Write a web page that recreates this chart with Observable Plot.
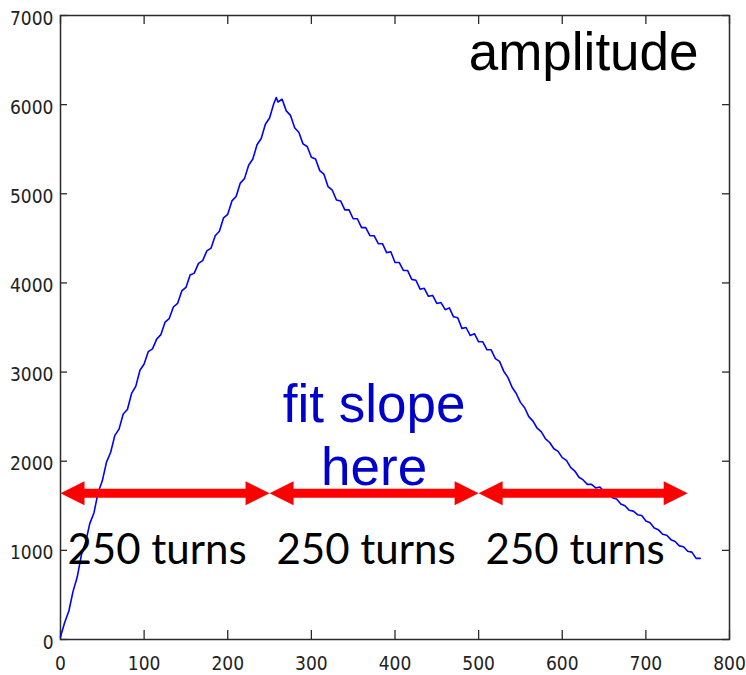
<!DOCTYPE html>
<html><head><meta charset="utf-8">
<script src="https://cdn.jsdelivr.net/npm/d3@7"></script>
<script src="https://cdn.jsdelivr.net/npm/@observablehq/plot@0.6"></script>
<style>body{margin:0;background:#fff}</style>
</head><body><div id="chart"></div>
<script>
// ---- data ----
const turns = [0,5,10,15,20,25,30,35,40,45,50,55,60,65,70,75,80,85,90,95,100,105,110,115,120,125,130,135,140,145,150,155,160,165,170,175,180,185,190,195,200,205,210,215,220,225,230,235,240,245,250,255,258,260,265,270,275,280,285,290,295,300,305,310,315,320,325,330,335,340,345,350,355,360,365,370,375,380,385,390,395,400,405,410,415,420,425,430,435,440,445,450,455,460,465,470,475,480,485,490,495,500,505,510,515,520,525,530,535,540,545,550,555,560,565,570,575,580,585,590,595,600,605,610,615,620,625,630,635,640,645,650,655,660,665,670,675,680,685,690,695,700,705,710,715,720,725,730,735,740,745,750,755,760,765];
const amplitude = [30,190,320,540,700,950,1090,1300,1420,1650,1780,1990,2100,2290,2360,2530,2580,2760,2840,3020,3090,3230,3260,3370,3420,3560,3600,3730,3770,3910,3950,4090,4110,4220,4250,4360,4390,4530,4580,4730,4770,4920,4970,5120,5170,5320,5390,5550,5620,5780,5850,6010,6080,6030,6060,5930,5880,5740,5690,5560,5530,5410,5390,5260,5220,5080,5040,4930,4920,4820,4820,4720,4720,4620,4620,4530,4530,4440,4440,4340,4350,4230,4230,4140,4140,4040,4030,3930,3940,3850,3860,3770,3780,3700,3720,3620,3610,3490,3500,3410,3430,3340,3340,3250,3250,3150,3120,3010,2940,2830,2760,2660,2600,2500,2450,2370,2330,2250,2210,2140,2110,2040,2010,1930,1890,1820,1790,1740,1740,1700,1710,1660,1640,1590,1575,1520,1500,1450,1440,1400,1390,1330,1310,1250,1230,1180,1170,1120,1100,1050,1040,990,980,910,910];
const xTicks = [0,100,200,300,400,500,600,700,800];
const yTicks = [0,1000,2000,3000,4000,5000,6000,7000];
const arrowStart = [0,250,500];
const arrowEnd = [250,500,750];
const arrowLevel = 1640;
const spanLabels = ["250 turns","250 turns","250 turns"];
const spanLabelX = [125,375,625];
const spanLabelY = 850;
const titleText = ["amplitude"];
const titleX = 763, titleY = 6394;
const noteText = ["fit slope\nhere"];
const noteX = 375, noteY = 1728;

// ---- build ----
const series = turns.map((t, i) => ({turn: t, amp: amplitude[i]}));
const arrows = arrowStart.map((s, i) => ({x1: s, x2: arrowEnd[i], y: arrowLevel}));
const spans = spanLabels.map((t, i) => ({text: t, x: spanLabelX[i], y: spanLabelY}));

const headRight = {draw(ctx) { ctx.moveTo(0, 0); ctx.lineTo(-24, -12); ctx.lineTo(-24, 12); ctx.closePath(); }};
const headLeft = {draw(ctx) { ctx.moveTo(0, 0); ctx.lineTo(24, -12); ctx.lineTo(24, 12); ctx.closePath(); }};

const W = 746, H = 675, mL = 60, mR = 17, mT = 15, mB = 36;
const pw = W - mL - mR, ph = H - mT - mB;
const tickFont = "'DejaVu Sans Condensed', 'Liberation Sans', sans-serif";
const axisColor = "#2a2a2a";

const chart = Plot.plot({
  width: W, height: H,
  marginLeft: mL, marginRight: mR, marginTop: mT, marginBottom: mB,
  style: {background: "#fff", color: "#222"},
  x: {domain: [0, 800], label: null},
  y: {domain: [0, 7000], label: null},
  marks: [
    Plot.frame({stroke: axisColor, strokeWidth: 1.5}),
    Plot.tickX(xTicks, {x: d => d, insetTop: ph - 9, stroke: axisColor, strokeWidth: 1.3}),
    Plot.tickX(xTicks, {x: d => d, insetBottom: ph - 9, stroke: axisColor, strokeWidth: 1.3}),
    Plot.tickY(yTicks, {y: d => d, insetRight: pw - 7, stroke: axisColor, strokeWidth: 1.3}),
    Plot.tickY(yTicks, {y: d => d, insetLeft: pw - 7, stroke: axisColor, strokeWidth: 1.3}),
    Plot.axisX({ticks: xTicks, tickSize: 0, tickPadding: 17, tickFormat: d3.format("d"), fontSize: 19, fontFamily: tickFont, fill: "#222", label: null}),
    Plot.axisY({ticks: yTicks, tickSize: 0, tickPadding: 7, dy: 3, tickFormat: d3.format("d"), fontSize: 19, fontFamily: tickFont, fill: "#222", label: null}),
    Plot.line(series, {x: "turn", y: "amp", stroke: "#0000ff", strokeWidth: 1.6}),
    Plot.ruleY(arrows, {x1: "x1", x2: "x2", y: "y", stroke: "#ff0000", strokeWidth: 9, insetLeft: 14, insetRight: 14}),
    Plot.dot(arrows, {x: "x1", y: "y", symbol: headLeft, r: 5, fill: "#ff0000", stroke: null}),
    Plot.dot(arrows, {x: "x2", y: "y", symbol: headRight, r: 5, fill: "#ff0000", stroke: null}),
    Plot.text(spans, {x: "x", y: "y", text: "text", dx: -8, lineAnchor: "bottom", fontSize: 42, fontFamily: "Lato, 'Open Sans', sans-serif", fill: "#000"}),
    Plot.text(titleText, {x: titleX, y: titleY, text: d => d, textAnchor: "end", lineAnchor: "bottom", fontSize: 53, fontFamily: "'Liberation Sans', Arial, sans-serif", fill: "#000"}),
    Plot.text(noteText, {x: noteX, y: noteY, text: d => d, lineAnchor: "bottom", lineHeight: 1.19, fontSize: 53, fontFamily: "'Liberation Sans', Arial, sans-serif", fill: "#0000cc"})
  ]
});
document.getElementById("chart").appendChild(chart);
</script>
</body></html>
